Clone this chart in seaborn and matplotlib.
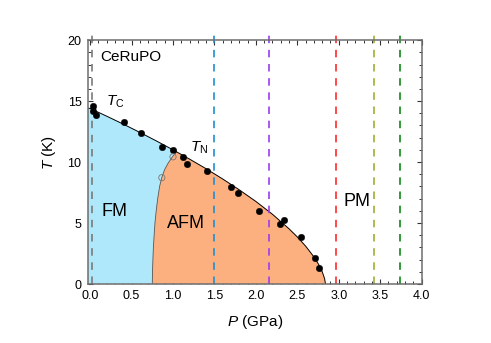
import matplotlib
matplotlib.use("Agg")
import matplotlib.pyplot as plt
import numpy as np
import seaborn as sns
import pandas as pd
from matplotlib.ticker import MultipleLocator, FormatStrFormatter

# measured transition points (filled) and AFM/FM points (open)
tc_p = [0.03, 0.03, 0.07, 0.41, 0.61, 0.87, 1.00, 1.12, 1.17, 1.41, 1.70, 1.78, 2.04, 2.29, 2.34, 2.54, 2.71, 2.76]
tc_t = [14.59, 14.18, 13.85, 13.25, 12.40, 11.25, 10.98, 10.41, 9.84, 9.29, 7.98, 7.48, 5.96, 4.92, 5.22, 3.85, 2.16, 1.29]
open_p = [0.865, 1.00]
open_t = [8.72, 10.43]

# upper phase boundary (Tc / TN line)
line_p = [-0.03, 0.0, 0.2, 0.4, 0.6, 0.8, 1.0, 1.04, 1.2, 1.4, 1.6, 1.8, 2.0, 2.2, 2.4, 2.5, 2.6, 2.7, 2.76, 2.8, 2.83, 2.84]
line_t = [14.42, 14.4, 13.76, 13.11, 12.43, 11.73, 11.0, 10.85, 10.24, 9.45, 8.61, 7.72, 6.77, 5.72, 4.53, 3.86, 3.11, 2.23, 1.58, 1.02, 0.43, 0.0]

# FM / AFM boundary, bottom to top
fa_p = [0.75, 0.752, 0.757, 0.763, 0.772, 0.782, 0.797, 0.815, 0.838, 0.865, 0.90, 0.94, 0.99, 1.04]
fa_t = [0.0, 1.0, 2.0, 3.0, 4.0, 5.0, 6.0, 7.0, 8.0, 8.75, 9.4, 9.9, 10.4, 10.85]

# dashed pressure markers
vline_p = [0.02, 1.49, 2.16, 2.97, 3.43, 3.74]
vline_colors = ["#7a7a7a", "#1f8fd0", "#9b3cf0", "#ff2a2a", "#9ab232", "#12881a"]

sns.set_theme(style="ticks")
plt.rcParams["font.family"] = ["Liberation Sans", "DejaVu Sans"]
plt.rcParams["mathtext.fontset"] = "custom"
plt.rcParams["mathtext.rm"] = "Liberation Sans"
plt.rcParams["mathtext.it"] = "Liberation Sans:italic"
plt.rcParams["text.color"] = "black"
plt.rcParams["axes.labelcolor"] = "black"

fig = plt.figure(figsize=(4.91, 3.43), dpi=100)
ax = fig.add_axes([0.1786, 0.172, 0.680, 0.711])

xmin, xmax = -0.03, 4.0
split = line_p.index(fa_p[-1])

# FM region: left edge, Tc line up to junction, boundary back down
fm_x = [xmin] + line_p[:split + 1] + fa_p[::-1]
fm_y = [0.0] + line_t[:split + 1] + fa_t[::-1]
ax.fill(fm_x, fm_y, color="#aee8fa", lw=0, zorder=1)

# AFM region: boundary up, TN line down to zero
afm_x = fa_p + line_p[split + 1:]
afm_y = fa_t + line_t[split + 1:]
ax.fill(afm_x, afm_y, color="#fcb080", lw=0, zorder=1)

ax.plot(fa_p, fa_t, color="#555555", lw=0.6, zorder=2)
line_df = pd.DataFrame({"P": line_p, "T": line_t})
sns.lineplot(data=line_df, x="P", y="T", sort=False, estimator=None,
             color="black", lw=0.7, ax=ax, zorder=3)

for p, c in zip(vline_p, vline_colors):
    ax.plot([p, p], [0, 20.6], color=c, lw=1.2, linestyle=(0, (4.5, 4)),
            clip_on=False, zorder=4)

sns.scatterplot(x=tc_p, y=tc_t, color="black", s=22, edgecolor="black",
                linewidth=0.3, ax=ax, zorder=5)
sns.scatterplot(x=open_p, y=open_t, facecolor="none", edgecolor="#777777",
                s=20, linewidth=0.6, ax=ax, zorder=5)

ax.set_xlim(xmin, xmax)
ax.set_ylim(0, 20)
ax.xaxis.set_major_locator(MultipleLocator(0.5))
ax.xaxis.set_minor_locator(MultipleLocator(0.1))
ax.xaxis.set_major_formatter(FormatStrFormatter("%.1f"))
ax.yaxis.set_major_locator(MultipleLocator(5))
ax.yaxis.set_minor_locator(MultipleLocator(1))
ax.tick_params(which="both", direction="in", top=True, right=True,
               color="#333333", labelsize=9, labelcolor="black")
ax.tick_params(which="major", length=3.6, width=0.8)
ax.tick_params(which="minor", length=2.0, width=0.7)
ax.tick_params(axis="y", pad=4.5)
ax.tick_params(axis="x", pad=4.0)
for s in ax.spines.values():
    s.set_color("#6e6e6e")
    s.set_linewidth(1.1)
    s.set_zorder(6)

ax.set_xlabel("$P$ (GPa)", fontsize=11)
ax.set_ylabel("$T$ (K)", fontsize=11)
ax.xaxis.set_label_coords(0.5, -0.119)
ax.yaxis.set_label_coords(-0.09, 0.54)

ax.text(0.12, 18.6, "CeRuPO", fontsize=11, ha="left", va="center")
ax.text(0.19, 14.94, "$T_{\\rm C}$", fontsize=11, ha="left", va="center")
ax.text(1.2, 11.15, "$T_{\\rm N}$", fontsize=11, ha="left", va="center")
ax.text(0.29, 5.98, "FM", fontsize=13, ha="center", va="center")
ax.text(1.16, 5.0, "AFM", fontsize=13, ha="center", va="center")
ax.text(3.22, 6.75, "PM", fontsize=13, ha="center", va="center")

fig.savefig("out.png", dpi=100)
